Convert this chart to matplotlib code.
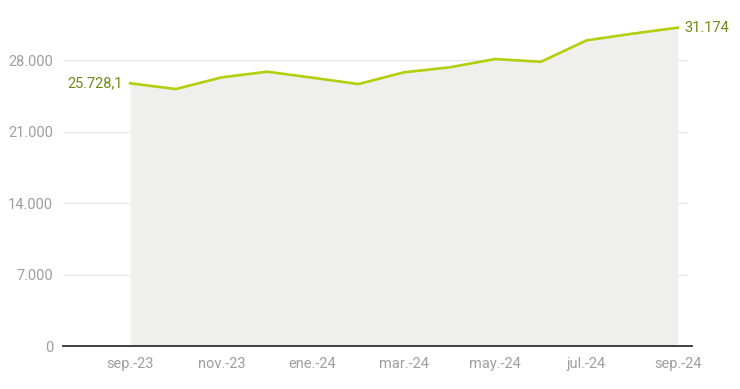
import matplotlib
matplotlib.use('Agg')
import matplotlib.pyplot as plt
from matplotlib.ticker import FuncFormatter

plt.rcParams['font.family'] = ['Roboto', 'DejaVu Sans']

months = ['sep.-23', 'oct.-23', 'nov.-23', 'dic.-23', 'ene.-24', 'feb.-24', 'mar.-24',
          'abr.-24', 'may.-24', 'jun.-24', 'jul.-24', 'ago.-24', 'sep.-24']
values = [25728.1, 25160, 26300, 26860, 26270, 25650, 26800,
          27290, 28100, 27830, 29930, 30580, 31174]
yticks = [0, 7000, 14000, 21000, 28000]
first_label = '25.728,1'
last_label = '31.174'

line_color = '#b3cf0c'
label_color = '#6d8b14'
tick_color = '#9e9e9e'

fig = plt.figure(figsize=(7.4, 3.89), dpi=100)
ax = fig.add_axes([63 / 740, 43 / 389, 629 / 740, 337 / 389])

x = list(range(len(values)))
ax.fill_between(x, values, 0, color='#efefee', lw=0, zorder=1)
ax.plot(x, values, color=line_color, lw=1.9, solid_joinstyle='round', zorder=3)

ax.set_xlim(-1.47, 12.31)
ax.set_ylim(0, 33000)
ax.set_yticks(yticks)
ax.yaxis.set_major_formatter(FuncFormatter(lambda v, p: f'{int(v):,}'.replace(',', '.')))
ax.set_xticks(x[::2])
ax.set_xticklabels(months[::2])

# gridlines stop a little short of the axis end
ax.hlines(yticks[1:], -1.47, 12.2, color='#e8e8e8', lw=1, zorder=0)
for s in ['top', 'right', 'left']:
    ax.spines[s].set_visible(False)
ax.spines['bottom'].set_color('#333333')
ax.spines['bottom'].set_linewidth(1.3)
ax.spines['bottom'].set_zorder(4)
ax.tick_params(length=0, labelsize=10.5, colors=tick_color)
ax.tick_params(axis='x', pad=8)
ax.tick_params(axis='y', pad=7)

ax.annotate(first_label, (x[0], values[0]), xytext=(-5, 0), textcoords='offset points',
            ha='right', va='center', color=label_color, fontsize=10.5)
ax.annotate(last_label, (x[-1], values[-1]), xytext=(5, 0), textcoords='offset points',
            ha='left', va='center', color=label_color, fontsize=10.5)

fig.savefig('out.png', dpi=100)
